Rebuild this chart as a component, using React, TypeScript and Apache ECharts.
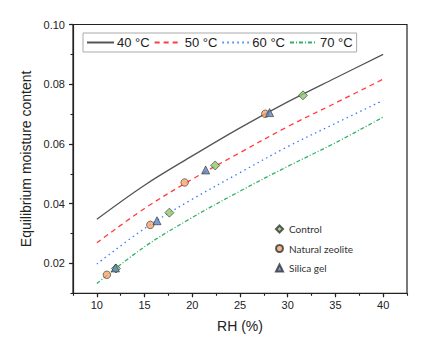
import React, { useEffect, useRef } from "react";
import * as echarts from "echarts";

const rhGrid = [10, 15, 20, 25, 30, 35, 40];
const m40 = [0.0348, 0.0462, 0.056, 0.0654, 0.0741, 0.0821, 0.09];
const m50 = [0.0269, 0.0384, 0.0482, 0.0571, 0.0658, 0.0737, 0.0817];
const m60 = [0.0198, 0.0317, 0.0415, 0.0504, 0.0591, 0.0669, 0.0746];
const m70 = [0.0133, 0.0256, 0.0354, 0.0442, 0.0525, 0.0604, 0.069];

const controlRH = [12.0, 17.6, 22.4, 31.6];
const controlM = [0.0183, 0.037, 0.0528, 0.0763];
const zeoliteRH = [11.05, 15.6, 19.2, 27.65];
const zeoliteM = [0.0162, 0.0329, 0.0471, 0.0701];
const silicaRH = [11.95, 16.3, 21.4, 28.1];
const silicaM = [0.0185, 0.0343, 0.0513, 0.0705];

const xMajor = [10, 15, 20, 25, 30, 35, 40];
const yMajor = [0.02, 0.04, 0.06, 0.08, 0.1];

const lineNames = ["40 °C", "50 °C", "60 °C", "70 °C"];
const pointNames = ["Control", "Natural zeolite", "Silica gel"];

const zip = (xs: number[], ys: number[]) => xs.map((x, i) => [x, ys[i]]);

export default function App() {
  const ref = useRef<HTMLDivElement>(null);
  useEffect(() => {
    if (!ref.current) return;
    const chart = echarts.init(ref.current, null, { renderer: "svg" });
    const font = "'Liberation Sans', Arial, sans-serif";
    const lineSeries = (name: string, ys: number[], color: string, type: any, width = 1.3) => ({
      name,
      type: "line",
      data: zip(rhGrid, ys),
      smooth: 0.35,
      symbol: "none",
      lineStyle: { color, width, type },
      itemStyle: { color },
      z: 2,
    });
    const pointSeries = (name: string, xs: number[], ys: number[], symbol: string, size: number, color: string) => ({
      name,
      type: "scatter",
      data: zip(xs, ys),
      symbol,
      symbolSize: size,
      itemStyle: { color, borderColor: "#333", borderWidth: 0.8 },
      z: 5,
    });
    chart.setOption({
      animation: false,
      backgroundColor: "#fff",
      textStyle: { fontFamily: font },
      grid: {
        left: 73,
        right: 35,
        top: 24.5,
        bottom: 55.7,
        show: true,
        borderColor: "#222",
        borderWidth: 1.2,
        backgroundColor: "transparent",
      },
      legend: [
        {
          data: lineNames,
          left: 83,
          top: 33,
          orient: "horizontal",
          itemWidth: 27,
          itemHeight: 12,
          itemGap: 4,
          padding: [3, 4, 3, 3],
          borderColor: "#aaa",
          borderWidth: 1,
          itemStyle: { opacity: 0 },
          textStyle: { fontSize: 13, color: "#222", fontFamily: font, padding: [0, 0, 0, -2] },
        },
        {
          data: pointNames,
          left: 275,
          top: 224,
          orient: "vertical",
          itemWidth: 7,
          itemHeight: 7,
          itemGap: 9.5,
          padding: 0,
          textStyle: { fontSize: 10, color: "#333", fontFamily: "Lato, 'Open Sans', sans-serif", padding: [0, 0, 0, 1] },
        },
      ],
      xAxis: [
        {
          type: "value",
          min: 7.5,
          max: 42.5,
          name: "RH (%)",
          nameLocation: "middle",
          nameGap: 26,
          nameTextStyle: { fontSize: 14, color: "#222", fontFamily: font },
          axisLine: { show: true, lineStyle: { color: "#222", width: 1.2 } },
          axisTick: { show: true, length: 4, customValues: xMajor, lineStyle: { color: "#222", width: 1.2 } },
          axisLabel: { customValues: xMajor, fontSize: 11, color: "#222", margin: 6, fontFamily: font },
          splitLine: { show: false },
        },
        {
          type: "value",
          min: 7.5,
          max: 42.5,
          interval: 2.5,
          position: "bottom",
          axisLine: { show: false },
          axisTick: { show: true, length: 2.5, lineStyle: { color: "#222", width: 1.1 } },
          axisLabel: { show: false },
          splitLine: { show: false },
        },
      ],
      yAxis: [
        {
          type: "value",
          min: 0.01,
          max: 0.1,
          name: "Equilibrium moisture content",
          nameLocation: "middle",
          nameGap: 34,
          nameTextStyle: { fontSize: 14, color: "#222", fontFamily: font },
          axisLine: { show: true, lineStyle: { color: "#222", width: 1.2 } },
          axisTick: { show: true, length: 4, customValues: yMajor, lineStyle: { color: "#222", width: 1.2 } },
          axisLabel: {
            customValues: yMajor,
            fontSize: 11,
            color: "#222",
            margin: 8,
            fontFamily: font,
            formatter: (v: number) => v.toFixed(2),
          },
          splitLine: { show: false },
        },
        {
          type: "value",
          min: 0.01,
          max: 0.1,
          interval: 0.01,
          position: "left",
          offset: 0,
          axisLine: { show: false },
          axisTick: { show: true, length: 2.5, lineStyle: { color: "#222", width: 1.1 } },
          axisLabel: { show: false },
          splitLine: { show: false },
        },
      ],
      series: [
        lineSeries("40 °C", m40, "#555555", "solid"),
        lineSeries("50 °C", m50, "#ff3c3c", [5, 4]),
        lineSeries("60 °C", m60, "#3a7cff", [1.5, 3.5]),
        lineSeries("70 °C", m70, "#33b068", [4, 2, 1, 2]),
        pointSeries("Control", controlRH, controlM, "diamond", 9, "#8ec86a"),
        pointSeries("Natural zeolite", zeoliteRH, zeoliteM, "circle", 7.5, "#f7a46c"),
        pointSeries("Silica gel", silicaRH, silicaM, "triangle", 8, "#5b84c4"),
      ],
    });
    return () => chart.dispose();
  }, []);
  return (
    <div
      ref={ref}
      style={{ position: "fixed", left: 0, top: 0, width: 442, height: 349, background: "#fff" }}
    />
  );
}
